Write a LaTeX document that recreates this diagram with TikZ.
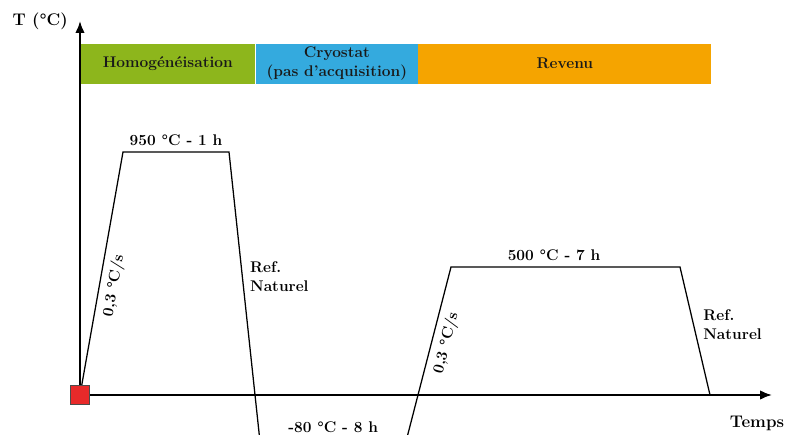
\documentclass[tikz,border=0pt]{standalone}
\usepackage{xcolor}
\usepackage{tikz}
\usetikzlibrary{calc,arrows.meta,positioning}

\definecolor{homogreen}{RGB}{141,182,28}
\definecolor{cryoblue}{RGB}{52,170,222}
\definecolor{revenuorange}{RGB}{245,164,0}
\definecolor{startred}{RGB}{232,42,42}

\begin{document}
\begin{tikzpicture}[
    scale=1.0,
    >={Latex[length=3mm,width=2.4mm]},
    every node/.style={font=\fontsize{11}{13.5}\selectfont\bfseries},
    phase/.style={minimum height=1cm,inner sep=0pt,anchor=south west,text=black!90},
    cycleline/.style={line width=0.9pt},
    axisline/.style={line width=1.5pt}
]

% Frame (the cryo stage runs off the bottom)
\clip (-2.0,-0.975) rectangle (17.7,9.875);

% Phase bars
\node[phase,fill=homogreen,minimum width=4.375cm] (homo) at (0,7.775)
    {Homogénéisation};
\node[phase,fill=cryoblue,minimum width=4.05cm,align=center,
    right=0pt of homo] (cryo)
    {Cryostat\\(pas d'acquisition)};
\node[phase,fill=revenuorange,minimum width=7.325cm,
    right=0pt of cryo] (revenu)
    {Revenu};

% Thermal cycle
\coordinate (O) at (0,0);
\coordinate (A1) at (1.075,6.075);
\coordinate (A2) at (3.725,6.075);
\coordinate (C1) at (4.493,-1.1);
\coordinate (C2) at (8.166,-1.1);
\coordinate (R1) at (9.275,3.2);
\coordinate (R2) at (15.0,3.2);
\coordinate (R3) at (15.75,0);

\draw[cycleline]
    (O) -- (A1) node[pos=0.46,sloped,below=1pt] {0,3 °C/s}
    -- (A2) node[midway,above=1pt] {950 °C - 1 h}
    -- (C1)
    -- (C2) node[midway,above=1pt] {-80 °C - 8 h}
    -- (R1) node[pos=0.58,sloped,below=1pt] {0,3 °C/s}
    -- (R2) node[pos=0.45,above=1pt] {500 °C - 7 h}
    -- (R3);

\node[align=left,anchor=west] (ref1) at (4.13,2.95) {Ref.\\Naturel};
\node[align=left,anchor=west] (ref2) at (15.46,1.75) {Ref.\\Naturel};

% Axes
\draw[axisline,->] (O) -- (0,9.35) coordinate (Tmax);
\draw[axisline,->] (O) -- (17.3,0) coordinate (tmax);

\node[font=\large\bfseries,left=0.18cm of Tmax] (Tlabel) {T (°C)};
\node[font=\fontsize{12}{14}\selectfont\bfseries] (temps) at (16.925,-0.7) {Temps};

% Start point
\node[draw=black!70,fill=startred,minimum size=0.475cm,inner sep=0pt,
    line width=0.6pt] (start) at (O) {};

\end{tikzpicture}
\end{document}
